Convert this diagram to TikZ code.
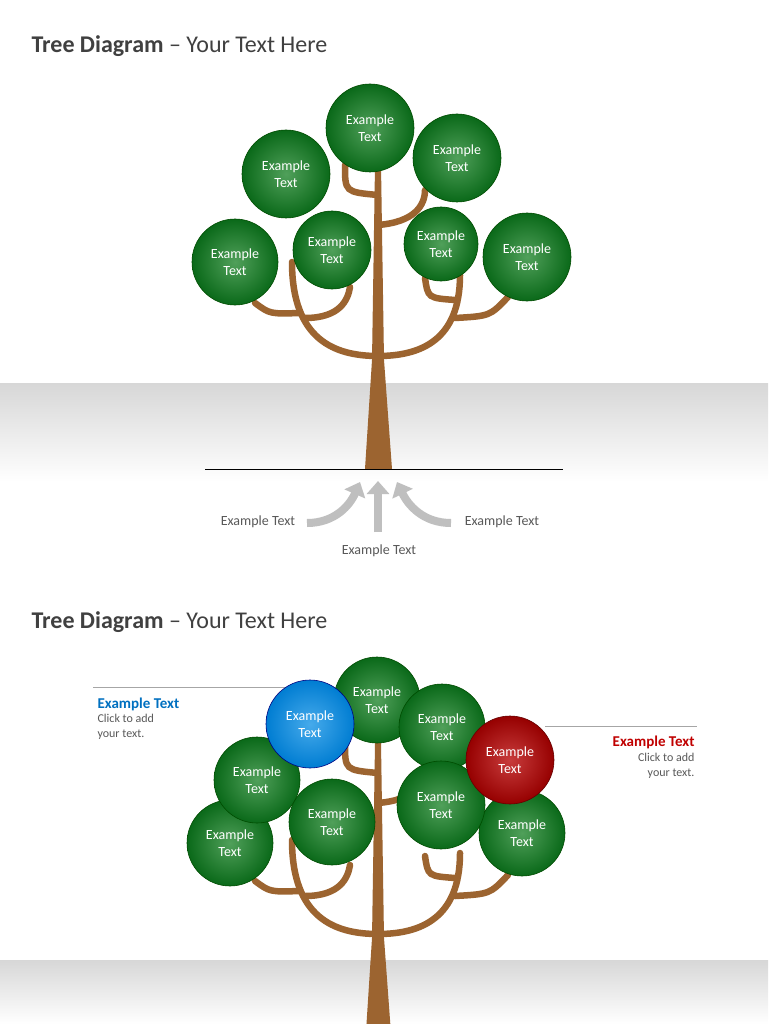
\documentclass[tikz,border=0pt]{standalone}
\usepackage{fontspec}
\setmainfont{Carlito}
\usetikzlibrary{arrows.meta}
\definecolor{bark}{HTML}{9C6430}
\definecolor{titc}{HTML}{404040}
\definecolor{txtc}{HTML}{595959}
\definecolor{arr}{HTML}{BFBFBF}
\tikzset{
 x=1pt,y=-1pt,
 branch/.style={bark,line width=6.5pt,line cap=round},
 ballg/.style={circle,draw=green!30!black,line width=0.6pt,shading=radial,inner color={rgb,255:red,80;green,160;blue,90},outer color={rgb,255:red,10;green,105;blue,25},text=white,font=\fontsize{14}{17}\selectfont,align=center,inner sep=0pt},
 ballb/.style={ballg,draw=blue!50!black,inner color={rgb,255:red,70;green,170;blue,235},outer color={rgb,255:red,0;green,125;blue,210}},
 ballr/.style={ballg,draw=red!40!black,inner color={rgb,255:red,200;green,60;blue,60},outer color={rgb,255:red,150;green,0;blue,0}},
 lbl/.style={text=txtc,font=\fontsize{14}{16}\selectfont},
 ttl/.style={text=titc,font=\fontsize{24}{28}\selectfont,anchor=west},
 side/.style={text=txtc,font=\fontsize{12}{15}\selectfont,align=left},
 gar/.style={arr,line width=8pt,-{Triangle[width=22pt,length=13pt]}}
}
\newcommand{\treeshape}{%
 \fill[bark] (375,165) -- (381,165) -- (384,360) -- (392,469) -- (365,469) -- (372,360) -- cycle;
 \draw[branch] (292,262) .. controls (292,340) and (335,356) .. (378,356) .. controls (421,356) and (460,340) .. (460,275);
 \draw[branch] (255,303) .. controls (270,314) .. (300,313);
 \draw[branch] (305,318) .. controls (340,318) and (348,300) .. (350,287);
 \draw[branch] (425,278) .. controls (428,298) .. (455,300);
 \draw[branch] (455,318) .. controls (490,316) .. (508,297);
 \draw[branch] (345,165) .. controls (345,192) .. (378,195);
 \draw[branch] (378,225) .. controls (415,222) and (425,205) .. (425,190);
}
\begin{document}
\begin{tikzpicture}
\useasboundingbox (0,0) rectangle (768,1024);
\fill[white] (0,0) rectangle (768,1024);
\shade[top color={rgb,255:red,215;green,215;blue,215},bottom color=white] (0,383) rectangle (768,482);
\shade[top color={rgb,255:red,215;green,215;blue,215},bottom color=white] (0,960) rectangle (768,1024);
\node[ttl] (t1) at (28,46) {\textbf{Tree Diagram} – Your Text Here};
\treeshape
\draw[black,line width=0.8pt] (205,469) coordinate (gl) -- (563,469) coordinate (gr);
\node[ballg,minimum size=88pt] (a1) at (370,128) {Example\\Text};
\node[ballg,minimum size=88pt] (a2) at (286,174) {Example\\Text};
\node[ballg,minimum size=88pt] (a3) at (457,158) {Example\\Text};
\node[ballg,minimum size=86pt] (a4) at (235,262) {Example\\Text};
\node[ballg,minimum size=78pt] (a5) at (332,250) {Example\\Text};
\node[ballg,minimum size=74pt] (a6) at (441,244) {Example\\Text};
\node[ballg,minimum size=88pt] (a7) at (527,257) {Example\\Text};
\coordinate (s1) at (307,523); \coordinate (e1) at (360,482);
\coordinate (s2) at (378,532); \coordinate (e2) at (378,481);
\coordinate (s3) at (451,523); \coordinate (e3) at (397,482);
\draw[gar] (s1) .. controls (335,523) and (350,505) .. (e1);
\draw[gar] (s2) -- (e2);
\draw[gar] (s3) .. controls (423,523) and (408,505) .. (e3);
\node[lbl] (l1) at (258,522) {Example Text};
\node[lbl] (l2) at (379,551) {Example Text};
\node[lbl] (l3) at (502,522) {Example Text};
\node[ttl] (t2) at (28,622) {\textbf{Tree Diagram} – Your Text Here};
\begin{scope}[yshift=-578pt]
\treeshape
\end{scope}
\node[ballg,minimum size=86pt] (b1) at (377,700) {Example\\Text};
\node[ballg,minimum size=86pt] (b2) at (442,727) {Example\\Text};
\node[ballg,minimum size=86pt] (b3) at (230,843) {Example\\Text};
\node[ballg,minimum size=86pt] (b4) at (257,780) {Example\\Text};
\node[ballg,minimum size=86pt] (b5) at (332,822) {Example\\Text};
\node[ballg,minimum size=86pt] (b6) at (522,833) {Example\\Text};
\node[ballg,minimum size=88pt] (b7) at (441,805) {Example\\Text};
\draw[gray!70,line width=1pt] (93,687) coordinate (c1) -- (290,687) coordinate (c2);
\draw[gray!70,line width=1pt] (545,726) coordinate (c3) -- (697,726) coordinate (c4);
\node[ballb,minimum size=88pt] (bb) at (310,724) {Example\\Text};
\node[ballr,minimum size=88pt] (br) at (510,760) {Example\\Text};
\node[anchor=west,text={rgb,255:red,0;green,112;blue,192},font=\fontsize{15}{17}\selectfont\bfseries] (x1) at (94,704) {Example Text};
\node[side,anchor=north west] (x2) at (94,711) {Click to add\\your text.};
\node[anchor=east,text={rgb,255:red,192;green,0;blue,0},font=\fontsize{15}{17}\selectfont\bfseries] (y1) at (698,742) {Example Text};
\node[side,anchor=north east,align=right] (y2) at (698,750) {Click to add\\your text.};
\end{tikzpicture}
\end{document}
